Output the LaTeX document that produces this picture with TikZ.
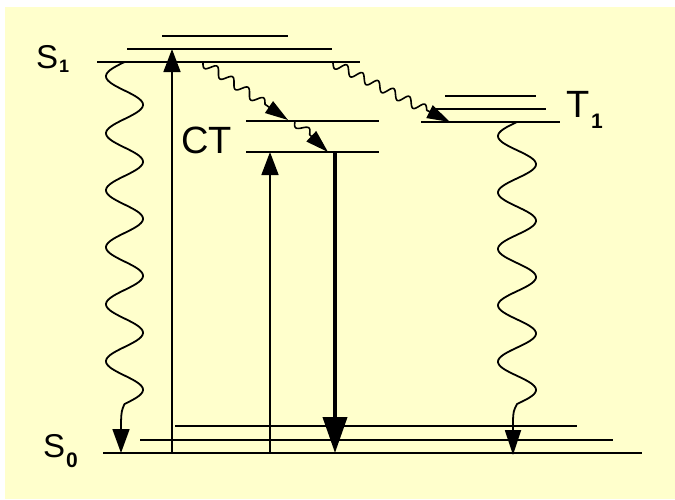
\documentclass[tikz,border=0pt]{standalone}
\usepackage{fontspec}
\setmainfont{Liberation Sans}
\usetikzlibrary{arrows.meta,calc}
\definecolor{bgyellow}{RGB}{255,255,204}
\begin{document}
\begin{tikzpicture}[x=1pt,y=-1pt,
  levelline/.style={line width=1.8pt},
  uparrow/.style={line width=1.6pt,-{Triangle[length=23pt,width=17pt]}},
  heavyarrow/.style={line width=4pt,-{Triangle[length=36pt,width=24pt]}},
  wavearrow/.style={line width=1.8pt,line join=round,-{Triangle[length=24pt,width=17pt]}},
  diagarrow/.style={line width=1.6pt,line join=round,-{Triangle[length=23pt,width=14pt]}},
  lab/.style={font=\fontsize{33}{33}\selectfont, inner sep=0pt, anchor=base west},
  biglab/.style={font=\fontsize{38}{38}\selectfont, inner sep=0pt, anchor=base west},
  sublab/.style={font=\fontsize{21}{21}\selectfont\bfseries, inner sep=0pt, anchor=base west},
]
\useasboundingbox (0,0) rectangle (675,499);
\fill[white] (0,0) rectangle (675,499);
\fill[bgyellow] (5,7) rectangle (675,499);

% S1 levels
\coordinate (s1aL) at (97,62);  \coordinate (s1aR) at (360,62);
\coordinate (s1bL) at (127,49); \coordinate (s1bR) at (332,49);
\coordinate (s1cL) at (162,36); \coordinate (s1cR) at (288,36);
% CT levels
\coordinate (ctaL) at (246,152); \coordinate (ctaR) at (379,152);
\coordinate (ctbL) at (246,121); \coordinate (ctbR) at (379,121);
% T1 levels
\coordinate (t1aL) at (421,122); \coordinate (t1aR) at (560,122);
\coordinate (t1bL) at (436,109); \coordinate (t1bR) at (546,109);
\coordinate (t1cL) at (445,96);  \coordinate (t1cR) at (536,96);
% S0 levels
\coordinate (s0aL) at (103,453); \coordinate (s0aR) at (642,453);
\coordinate (s0bL) at (140,440); \coordinate (s0bR) at (613,440);
\coordinate (s0cL) at (175,426); \coordinate (s0cR) at (577,426);

\foreach \l in {s1a,s1b,s1c,cta,ctb,t1a,t1b,t1c,s0a,s0b,s0c}
  \draw[levelline] (\l L) -- (\l R);

% labels
\node[lab] (s1lab) at (36,68) {S};
\node[sublab,font=\fontsize{18}{18}\selectfont\bfseries] (s1sub) at (59,72) {1};
\node[lab] (s0lab) at (43,457) {S};
\node[sublab] (s0sub) at (66,467) {0};
\node[biglab] (ctlab) at (181,153) {CT};
\node[biglab] (t1lab) at (566,117) {T};
\node[sublab] (t1sub) at (591,128) {1};

% straight arrows
\coordinate (exS0) at (172,453); \coordinate (exS1) at (172,49);
\draw[uparrow] (exS0) -- (exS1);
\coordinate (exCT0) at (270,453); \coordinate (exCT1) at (270,152);
\draw[uparrow] (exCT0) -- (exCT1);
\coordinate (emCT1) at (335,152); \coordinate (emCT0) at (335,453);
\draw[heavyarrow] (emCT1) -- (emCT0);

% vertical wavy arrows
\coordinate (lwB) at (121,422); \coordinate (lwT) at (121,453);
\draw[wavearrow] plot[domain=0:342, samples=260, variable=\t]
   ({124.5-18.5*sin(6.31579*\t)},{62+\t}) .. controls (121.5,411) .. (lwB) -- (lwT);

\coordinate (rwB) at (513,420); \coordinate (rwT) at (513,455);
\draw[wavearrow,-{Triangle[length=25pt,width=16pt]}] plot[domain=0:282, samples=220, variable=\t]
   ({517-19*sin(6.38298*\t)},{122+\t}) .. controls (513.5,411) .. (rwB) -- (rwT);

% diagonal wavy arrows
\coordinate (d1S) at (203,62); \coordinate (d1T) at (288,120);
\draw[diagarrow] plot[domain=0:75, samples=90, variable=\t]
   ({203+0.826*\t-0.564*4.5*sin(19.2*\t)},{62+0.564*\t+0.826*4.5*sin(19.2*\t)}) -- (d1T);
\coordinate (d2S) at (295,121); \coordinate (d2T) at (328,152);
\draw[diagarrow] plot[domain=0:20, samples=30, variable=\t]
   ({295+0.729*\t-0.684*4.5*sin(18*\t)},{121+0.684*\t+0.729*4.5*sin(18*\t)}) -- (d2T);
\coordinate (d3S) at (333,63); \coordinate (d3T) at (450,122);
\draw[diagarrow] plot[domain=0:105, samples=120, variable=\t]
   ({333+0.893*\t-0.450*4.5*sin(20.5714*\t)},{63+0.450*\t+0.893*4.5*sin(20.5714*\t)}) -- (d3T);
\end{tikzpicture}
\end{document}
